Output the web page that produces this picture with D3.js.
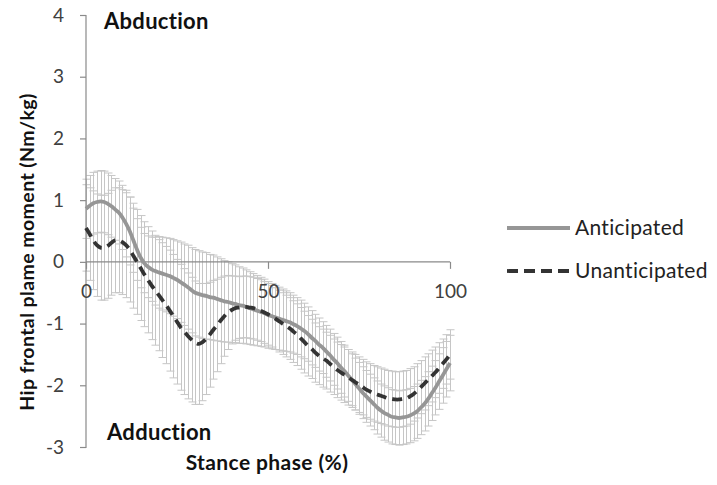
<!DOCTYPE html>
<html><head><meta charset="utf-8">
<script src="https://cdn.jsdelivr.net/npm/d3@7"></script>
<style>body{margin:0;background:#fff;} text{font-family:Lato,"Open Sans",sans-serif;}</style>
</head><body><svg id="c" width="717" height="485"></svg>
<script>
const stance = d3.range(0, 101, 1);
const anticipated = [0.86,0.91,0.95,0.97,0.98,0.97,0.94,0.90,0.85,0.80,
 0.72,0.62,0.50,0.35,0.20,0.07,-0.02,-0.08,-0.12,-0.15,
 -0.17,-0.19,-0.21,-0.23,-0.26,-0.29,-0.33,-0.37,-0.41,-0.46,
 -0.50,-0.52,-0.54,-0.55,-0.57,-0.58,-0.60,-0.62,-0.64,-0.65,
 -0.67,-0.68,-0.70,-0.71,-0.73,-0.75,-0.77,-0.79,-0.81,-0.83,
 -0.86,-0.88,-0.90,-0.92,-0.94,-0.96,-0.98,-1.01,-1.04,-1.08,
 -1.12,-1.17,-1.23,-1.28,-1.34,-1.39,-1.45,-1.51,-1.58,-1.64,
 -1.71,-1.77,-1.84,-1.91,-1.98,-2.05,-2.12,-2.18,-2.24,-2.30,
 -2.36,-2.41,-2.45,-2.48,-2.51,-2.52,-2.53,-2.52,-2.51,-2.49,
 -2.46,-2.42,-2.36,-2.30,-2.22,-2.13,-2.04,-1.94,-1.84,-1.74,-1.64];
const anticipatedSD = [0.48,0.49,0.5,0.5,0.5,0.5,0.5,0.5,0.5,0.51,
 0.52,0.54,0.55,0.52,0.5,0.49,0.48,0.5,0.52,0.55,
 0.58,0.59,0.6,0.61,0.62,0.63,0.65,0.66,0.68,0.69,
 0.7,0.7,0.7,0.7,0.69,0.69,0.68,0.67,0.66,0.65,
 0.64,0.63,0.62,0.61,0.6,0.59,0.58,0.57,0.56,0.55,
 0.54,0.53,0.52,0.51,0.5,0.49,0.48,0.47,0.46,0.46,
 0.45,0.44,0.44,0.43,0.43,0.42,0.42,0.42,0.42,0.42,
 0.42,0.42,0.42,0.42,0.42,0.42,0.42,0.42,0.42,0.42,
 0.43,0.43,0.44,0.44,0.44,0.44,0.44,0.44,0.44,0.44,
 0.44,0.44,0.44,0.44,0.44,0.44,0.44,0.45,0.45,0.45,0.45];
const unanticipated = [0.55,0.45,0.35,0.27,0.23,0.23,0.26,0.31,0.35,0.35,
 0.32,0.27,0.20,0.10,0.00,-0.10,-0.20,-0.29,-0.38,-0.46,
 -0.54,-0.62,-0.70,-0.79,-0.88,-0.97,-1.06,-1.13,-1.20,-1.26,
 -1.31,-1.33,-1.30,-1.25,-1.18,-1.10,-1.03,-0.95,-0.88,-0.82,
 -0.78,-0.75,-0.74,-0.73,-0.73,-0.74,-0.75,-0.77,-0.79,-0.82,
 -0.85,-0.88,-0.92,-0.96,-1.00,-1.04,-1.08,-1.13,-1.18,-1.24,
 -1.30,-1.36,-1.41,-1.47,-1.52,-1.56,-1.60,-1.65,-1.70,-1.75,
 -1.79,-1.83,-1.87,-1.91,-1.95,-1.99,-2.03,-2.07,-2.10,-2.13,
 -2.15,-2.17,-2.19,-2.21,-2.22,-2.23,-2.23,-2.22,-2.21,-2.18,
 -2.14,-2.09,-2.03,-1.97,-1.91,-1.85,-1.79,-1.72,-1.65,-1.58,-1.50];
const unanticipatedSD = [0.7,0.75,0.8,0.83,0.85,0.85,0.85,0.85,0.85,0.85,
 0.85,0.85,0.85,0.85,0.85,0.85,0.85,0.86,0.88,0.89,
 0.9,0.93,0.95,0.98,1.0,1.01,1.02,1.02,1.02,1.01,
 1.0,0.98,0.95,0.9,0.85,0.8,0.75,0.7,0.65,0.6,
 0.55,0.52,0.5,0.5,0.5,0.5,0.5,0.5,0.5,0.5,
 0.5,0.5,0.5,0.5,0.5,0.5,0.5,0.5,0.5,0.5,
 0.5,0.49,0.48,0.48,0.47,0.47,0.46,0.46,0.45,0.45,
 0.45,0.45,0.45,0.45,0.45,0.45,0.45,0.45,0.45,0.45,
 0.45,0.45,0.45,0.45,0.45,0.45,0.45,0.45,0.45,0.45,
 0.44,0.44,0.43,0.43,0.42,0.42,0.41,0.41,0.4,0.4,0.4];
const yTicks = [-3,-2,-1,0,1,2,3,4];
const xTicks = [0,50,100];
const seriesNames = ["Anticipated","Unanticipated"];

const svg = d3.select("#c");
const x = d3.scaleLinear().domain([0,100]).range([86,450]);
const y = d3.scaleLinear().domain([-3,4]).range([447,15]);
const axisCol = "#8a8a8a", textCol = "#404040";
const fmt = d => String(d).replace("\u2212","-");

// error bars
const eb = svg.append("g").attr("stroke","#c6c6c6").attr("stroke-width",1);
[[anticipated,anticipatedSD],[unanticipated,unanticipatedSD]].forEach(([m,s])=>{
  stance.forEach((p,i)=>{
    const cx = Math.round(x(p))+0.5, hi = y(m[i]+s[i]), lo = y(m[i]-s[i]);
    eb.append("line").attr("x1",cx).attr("x2",cx).attr("y1",hi).attr("y2",lo);
    eb.append("line").attr("x1",cx-4).attr("x2",cx+4).attr("y1",hi).attr("y2",hi);
    eb.append("line").attr("x1",cx-4).attr("x2",cx+4).attr("y1",lo).attr("y2",lo);
  });
});

// y axis
const ya = svg.append("g").attr("transform","translate(86,0)").call(d3.axisLeft(y).tickValues(yTicks).tickSize(6).tickPadding(16).tickFormat(fmt));
ya.select(".domain").attr("stroke",axisCol).attr("stroke-width",1.2).attr("d","M-6,15.5H0V447.5H-6");
ya.selectAll(".tick line").attr("stroke",axisCol).attr("stroke-width",1.2);
ya.selectAll(".tick text").attr("fill",textCol).attr("font-size",19).style("font-family","Lato,'Open Sans',sans-serif");

// x axis at y=0
const xa = svg.append("g").attr("transform",`translate(0,${y(0)})`).call(d3.axisBottom(x).tickValues(xTicks).tickSize(7).tickPadding(16).tickFormat(fmt));
xa.select(".domain").attr("stroke",axisCol).attr("stroke-width",1.2).attr("d",`M86,0H450`);
xa.selectAll(".tick line").attr("stroke",axisCol).attr("stroke-width",1.2);
xa.selectAll(".tick text").attr("fill",textCol).attr("font-size",19).style("font-family","Lato,'Open Sans',sans-serif");

// lines
const line = d3.line().x((d,i)=>x(stance[i])).y(d=>y(d)).curve(d3.curveCatmullRom.alpha(0.5));
svg.append("path").datum(anticipated).attr("d",line).attr("fill","none").attr("stroke","#969696").attr("stroke-width",3.8);
svg.append("path").datum(unanticipated).attr("d",line).attr("fill","none").attr("stroke","#333333").attr("stroke-width",3.8).attr("stroke-dasharray","10,6");

// labels
const bold = (t,xx,yy,fs,anchor)=>svg.append("text").attr("x",xx).attr("y",yy).attr("font-weight","bold").attr("font-size",fs).attr("fill","#111").attr("text-anchor",anchor||"start").text(t);
bold("Abduction",104,29,22).attr("letter-spacing",0.3);
bold("Adduction",107,440,22).attr("letter-spacing",0.3);
bold("Stance phase (%)",267,470,21,"middle").attr("letter-spacing",0.4);
svg.append("text").attr("transform","translate(34,252) rotate(-90)").attr("text-anchor","middle").attr("font-weight","bold").attr("font-size",19.5).attr("letter-spacing",0.4).attr("fill","#111").text("Hip frontal plame moment (Nm/kg)");

// legend
const lg = svg.append("g");
seriesNames.forEach((n,i)=>{
  const ly = 228 + i*43;
  lg.append("line").attr("x1",507).attr("x2",570).attr("y1",ly).attr("y2",ly)
    .attr("stroke", i===0?"#969696":"#333333").attr("stroke-width",3.8)
    .attr("stroke-dasharray", i===0?null:"11,6");
  lg.append("text").attr("x",575).attr("y",ly+7).attr("font-size",21).attr("letter-spacing",0.3).attr("fill","#222").text(n);
});
</script></body></html>
